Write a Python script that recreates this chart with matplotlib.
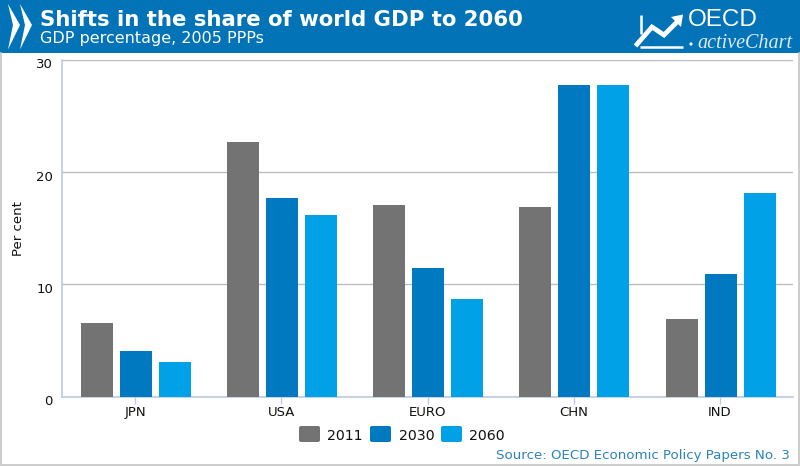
import numpy as np
import matplotlib
matplotlib.use('Agg')
import matplotlib.pyplot as plt
import matplotlib.transforms as mtrans
from matplotlib.patches import Polygon, Rectangle, FancyBboxPatch, Circle

# data
countries = ['JPN', 'USA', 'EURO', 'CHN', 'IND']
years = ['2011', '2030', '2060']
share2011 = [6.55, 22.7, 17.05, 16.9, 6.9]
share2030 = [4.05, 17.7, 11.5, 27.8, 10.95]
share2060 = [3.1, 16.2, 8.7, 27.8, 18.1]
yticks = [0, 10, 20, 30]

GREY = '#737373'
BLUE = '#0079C1'
LIGHT = '#00A1E6'
HEADER = '#0273B6'
AXIS = '#BCCBDF'
GRID = '#BDBDBD'

W, H = 800, 467
fig = plt.figure(figsize=(W / 100, H / 100), dpi=100, facecolor='white')

# overlay in pixel coordinates for the header and frame
bg = fig.add_axes([0, 0, 1, 1], zorder=0)
bg.set_xlim(0, W)
bg.set_ylim(H, 0)
bg.axis('off')
bg.add_patch(Rectangle((0, 0), W, 53, color=HEADER, lw=0))
bg.plot([0.5, 0.5, 798.5, 798.5], [53, 464.5, 464.5, 53], color='#C4C4C4', lw=1.2)

# OECD chevrons
for dx in (0, 12):
    bg.add_patch(Polygon([(8 + dx, 4), (20 + dx, 25), (8 + dx, 49.5), (13 + dx, 25)],
                         color='white', lw=0))

bg.text(39.5, 20, 'Shifts in the share of world GDP to 2060', color='white',
        fontsize=15.3, fontweight='bold', va='center', family='DejaVu Sans')
bg.text(39.5, 38.5, 'GDP percentage, 2005 PPPs', color='white',
        fontsize=11.5, va='center', family='DejaVu Sans')

# activeChart logo
bg.plot([641, 641], [15, 34], color='white', lw=1.8, solid_capstyle='butt')
bg.plot([635.5, 652, 664, 679], [46, 27, 35, 20], color='white', lw=3.4,
        solid_joinstyle='miter', solid_capstyle='butt')
bg.add_patch(Polygon([(671, 17), (683, 14.5), (681, 27)], color='white', lw=0))
bg.plot([640, 683], [47, 47], color='white', lw=1.8, solid_capstyle='butt')
bg.text(688, 20.5, 'OECD', color='white', fontsize=17.5, va='center', family='Liberation Sans')
bg.add_patch(Circle((691, 44), 1.6, color='white', lw=0))
bg.text(697, 43, 'activeChart', color='#DCEBF6', fontsize=14.5, va='center',
        family='Liberation Serif', style='italic')

# source
bg.text(790, 455.5, 'Source: OECD Economic Policy Papers No. 3', color='#2A83BE',
        fontsize=9.65, ha='right', va='center', family='DejaVu Sans')

# the chart itself
ax = fig.add_axes([62 / W, 1 - 396.5 / H, 731 / W, 336.5 / H], zorder=1)
ax.patch.set_alpha(0)
x = np.arange(len(countries))
barw = 0.219
step = 0.267
nudge = 0.005  # bars sit about a pixel right of the ticks in the original
for i, (vals, col) in enumerate(zip([share2011, share2030, share2060], [GREY, BLUE, LIGHT])):
    ax.bar(x + (i - 1) * step + nudge, vals, barw, color=col, zorder=3, label=years[i])

ax.set_xlim(-0.5, 4.5)
ax.set_ylim(0, 30)
ax.set_yticks(yticks)
ax.set_xticks(x)
ax.set_xticklabels(countries)
ax.yaxis.grid(True, color=GRID, lw=1)
ax.set_axisbelow(True)
ax.tick_params(axis='y', length=0, pad=6.5, labelsize=9.5, labelcolor='#111111')
ax.tick_params(axis='x', length=5, width=1, color=AXIS, pad=2, labelsize=9.5, labelcolor='#111111')
ax.set_ylabel('Per cent', fontsize=9.5, color='#111111', labelpad=8)
# y labels sit a little under their grid lines in the original
for lab in ax.get_yticklabels():
    lab.set_transform(lab.get_transform() + mtrans.ScaledTranslation(0, -2.5 / 72, fig.dpi_scale_trans))
for side in ('top', 'right'):
    ax.spines[side].set_visible(False)
ax.spines['left'].set_color(AXIS)
ax.spines['bottom'].set_color(AXIS)
ax.spines['left'].set_linewidth(1.2)
ax.spines['bottom'].set_linewidth(1.2)

# legend swatches in pixel positions, labels from the year list
for xpos, col, lab in zip([299, 370, 441], [GREY, BLUE, LIGHT], years):
    bg.add_patch(FancyBboxPatch((xpos + 2, 428), 17, 12, boxstyle='round,pad=2', color=col, lw=0))
    bg.text(xpos + 28.5, 435.5, lab, fontsize=10.2, va='center', color='#111111', family='DejaVu Sans')

fig.savefig('out.png', dpi=100)
